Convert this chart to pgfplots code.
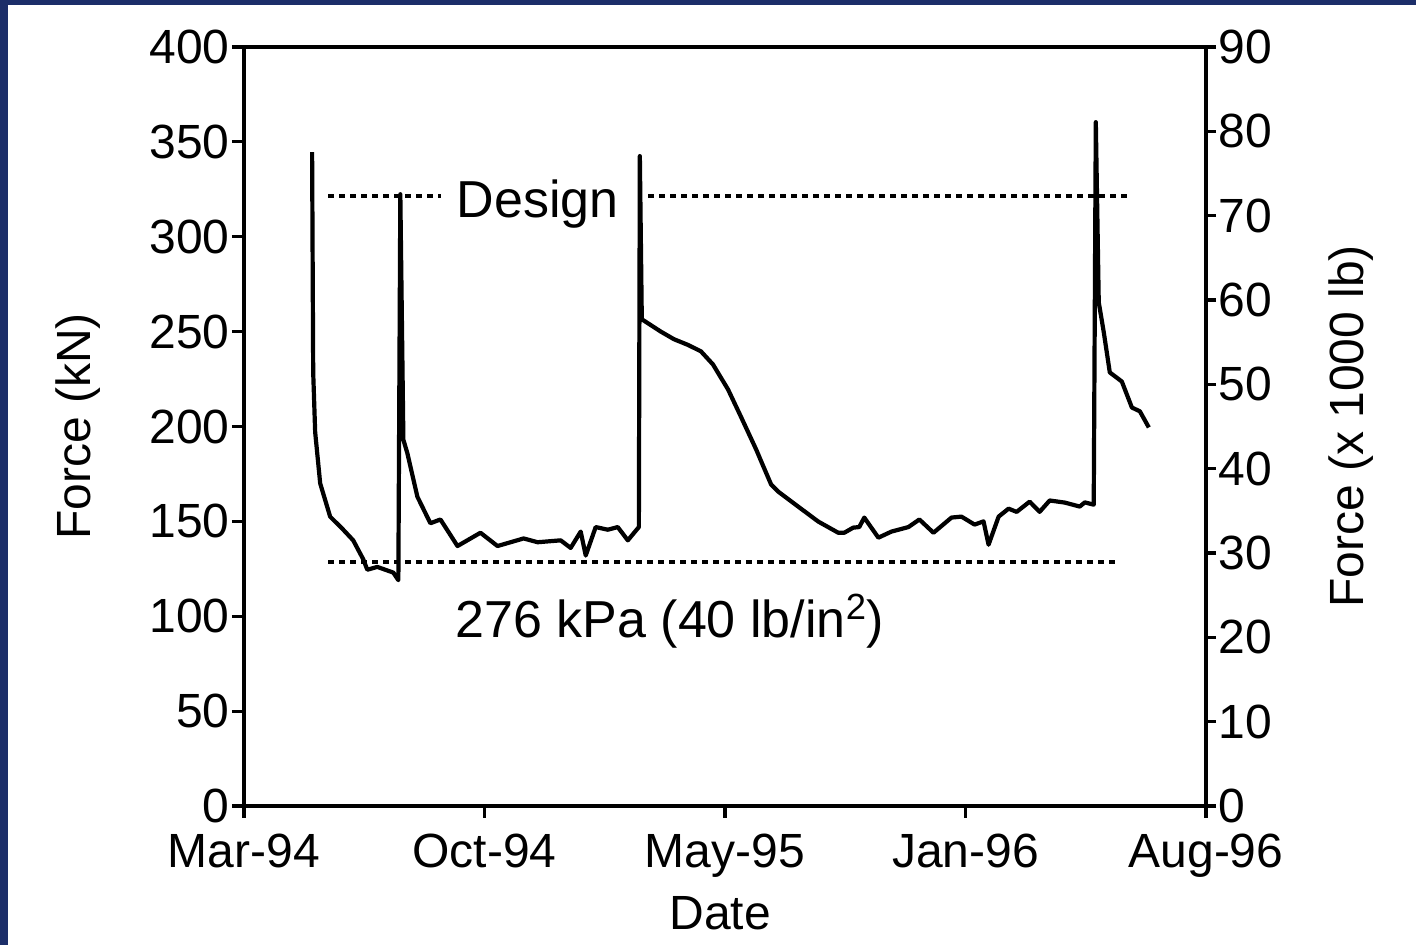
\documentclass[border=0pt]{standalone}
\usepackage{fontspec}
\setmainfont{Liberation Sans}
\usepackage{pgfplots}
\pgfplotsset{compat=1.18}
\definecolor{frameblue}{RGB}{28,46,105}

\begin{document}
\begin{tikzpicture}[font=\fontsize{24}{28}\selectfont]
\fill[frameblue] (-122pt,-69.5pt) rectangle (586pt,403pt);
\fill[white] (-118pt,-69.5pt) rectangle (586pt,400.5pt);

\begin{axis}[
  at={(0,0)}, anchor=south west,
  scale only axis, width=481pt, height=379.5pt,
  xmin=0, xmax=880, ymin=0, ymax=400,
  xtick={0,220,440,660,880},
  xticklabels={Mar-94,Oct-94,May-95,Jan-96,Aug-96},
  ytick={0,50,...,400},
  xtick pos=left, ytick pos=left,
  tick align=outside,
  major tick length=6pt,
  axis line style={line width=2pt},
  every tick/.style={black, line width=1.6pt},
  /pgf/number format/assume math mode=true,
  yticklabel style={inner sep=1pt},
  xticklabel style={inner sep=1pt, yshift=-7pt},
  xlabel={Date}, ylabel={Force (kN)},
  xlabel style={at={(axis description cs:0.495,0)}, anchor=base, yshift=-62pt},
  ylabel style={at={(axis description cs:-0.142,0.5)}, anchor=south},
  clip=false,
]
% measured force
\addplot[black, line width=2.1pt, line join=round] coordinates {
(62.3,344.6)(63.3,228.5)(65.1,197)(69.7,170)(78.8,152.5)(90.8,145.6)
(99.9,140)(109.1,130)(112.8,124.5)(121.9,126)(136.6,123)(141.2,119)
(143.0,322.4)(145.8,193)(149.4,186)(158.6,163)(170.5,149)(179.7,151)
(195.3,137)(216.3,144)(231.9,137)(255.8,141)(268.6,139)(289.7,140)
(298.8,136)(308.0,144.6)(312.6,132)(321.7,147)(332.8,145.6)(341.9,147)
(351.1,140)(361.2,147)
(362.1,342.5)(363.9,256.5)(381.3,250)(393.3,246)(406.1,243)(418.0,239.6)
(429.0,232.7)(442.8,219.5)(454.7,205)(468.4,188)(482.2,169.4)(488.6,165.7)
(506.9,157.8)(525.3,149.9)(543.6,144)(549.1,144)(557.3,146.7)(562.8,147)
(567.4,152)(580.3,141.4)(592.2,144.6)(607.8,147)(617.8,151)(630.7,144)
(647.2,152)(656.3,152.5)(668.3,148.3)(676.5,150)(681.1,137.7)(690.3,152.5)
(699.4,156.7)(706.8,155)(718.7,160.4)(727.8,155)(737.0,161)(750.8,159.9)
(764.5,157.8)(769.1,160)(777.3,158.8)
(779.2,360.4)(781.9,265.4)(786.5,249.6)(792.0,228.5)(803.0,223.7)
(812.2,210)(819.5,208)(827.7,199.5)
};
% design level
\addplot[black, line width=2pt, dash pattern=on 2.8pt off 2.7pt] coordinates {(77,321.4)(180,321.4)};
\addplot[black, line width=2pt, dash pattern=on 2.8pt off 2.7pt] coordinates {(370,321.4)(809,321.4)};
% 276 kPa level
\addplot[black, line width=2pt, dash pattern=on 2.8pt off 2.7pt] coordinates {(77,128.8)(797,128.8)};
\node[anchor=base, inner sep=0pt, font=\fontsize{26}{30}\selectfont] at (axis cs:268.6,310.3) {Design};
\node[anchor=base, inner sep=0pt, font=\fontsize{26}{30}\selectfont] at (axis cs:389.6,88.7) {276 kPa (40 lb/in\textsuperscript{2})};
\end{axis}

\begin{axis}[
  at={(0,0)}, anchor=south west,
  scale only axis, width=481pt, height=379.5pt,
  xmin=0, xmax=880, ymin=0, ymax=90,
  axis x line=none, axis y line*=right,
  ytick={0,10,...,90},
  tick align=outside,
  major tick length=5pt,
  axis line style={line width=2pt, -},
  every tick/.style={black, line width=1.6pt},
  /pgf/number format/assume math mode=true,
  yticklabel style={inner sep=1pt},
  ylabel={Force (x 1000 lb)},
  ylabel style={at={(axis description cs:1.12,0.5)}, anchor=north, rotate=0},
]
\addplot[draw=none] coordinates {(0,0)};
\end{axis}

\pgfresetboundingbox
\useasboundingbox (-122pt,-69.5pt) rectangle (586pt,403pt);
\end{tikzpicture}
\end{document}
